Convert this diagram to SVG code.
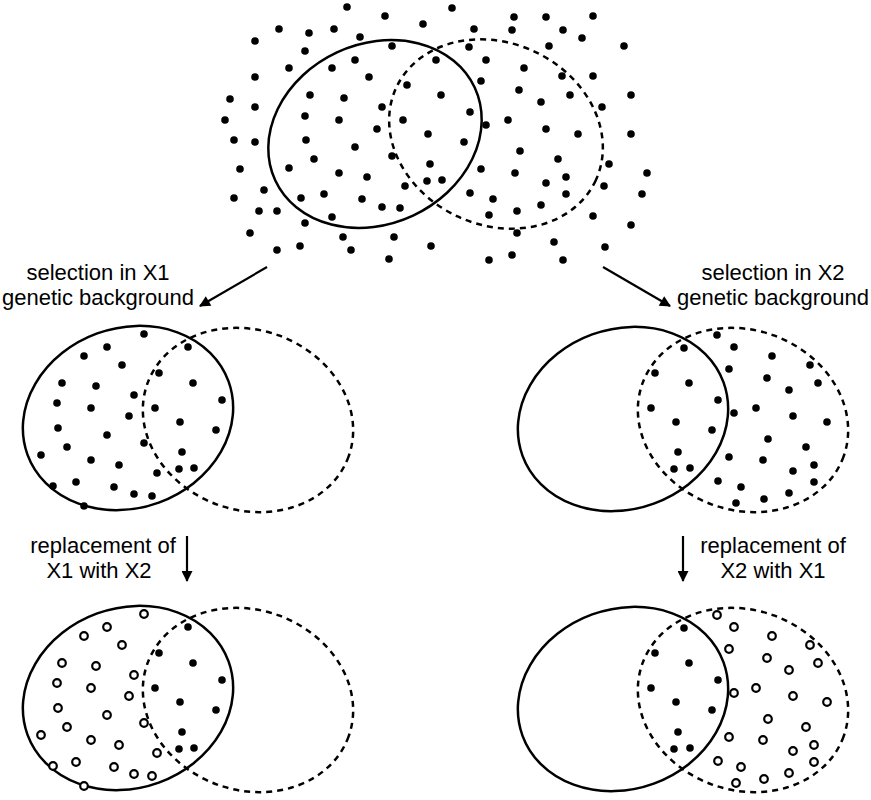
<svg xmlns="http://www.w3.org/2000/svg" width="871" height="800" viewBox="0 0 871 800">
<style>
.s{fill:none;stroke:#000;stroke-width:2.5}
.d{fill:none;stroke:#000;stroke-width:2.5;stroke-dasharray:6 5}
.f{fill:#000}
.o{fill:#fff;stroke:#000;stroke-width:2.2}
.t{font-family:"Liberation Sans",Arial,sans-serif;font-size:22px;fill:#000;text-anchor:middle}
.a{stroke:#000;stroke-width:2.2;fill:none;marker-end:url(#m)}
</style>
<defs>
<marker id="m" viewBox="0 0 10 10" refX="9" refY="5" markerWidth="13" markerHeight="11" orient="auto" markerUnits="userSpaceOnUse"><path d="M0,0 L10,5 L0,10 z" fill="#000"/></marker>
<g id="d0">
<circle cx="144" cy="334" r="3.8"/><circle cx="107" cy="347" r="3.8"/><circle cx="84" cy="356" r="3.8"/><circle cx="122" cy="365" r="3.8"/><circle cx="62" cy="383" r="3.8"/><circle cx="96" cy="386" r="3.8"/><circle cx="134" cy="395" r="3.8"/><circle cx="57" cy="403" r="3.8"/><circle cx="91" cy="408" r="3.8"/><circle cx="129" cy="416" r="3.8"/><circle cx="58" cy="428" r="3.8"/><circle cx="107" cy="435" r="3.8"/><circle cx="144" cy="443" r="3.8"/><circle cx="67" cy="447" r="3.8"/><circle cx="41" cy="455" r="3.8"/><circle cx="91" cy="460" r="3.8"/><circle cx="119" cy="465" r="3.8"/><circle cx="157" cy="473" r="3.8"/><circle cx="53" cy="486" r="3.8"/><circle cx="76" cy="482" r="3.8"/><circle cx="114" cy="487" r="3.8"/><circle cx="134" cy="494" r="3.8"/><circle cx="152" cy="496" r="3.8"/><circle cx="84" cy="506" r="3.8"/>
</g>
<g id="d1">
<circle cx="188" cy="347" r="3.8"/><circle cx="159" cy="373" r="3.8"/><circle cx="193" cy="383" r="3.8"/><circle cx="222" cy="400" r="3.8"/><circle cx="155" cy="408" r="3.8"/><circle cx="180" cy="422" r="3.8"/><circle cx="216" cy="430" r="3.8"/><circle cx="182" cy="452" r="3.8"/><circle cx="179" cy="469" r="3.8"/><circle cx="194" cy="468" r="3.8"/>
</g>
<g id="e1">
<circle cx="684" cy="348" r="3.8"/><circle cx="655" cy="373" r="3.8"/><circle cx="689" cy="383" r="3.8"/><circle cx="718" cy="400" r="3.8"/><circle cx="651" cy="408" r="3.8"/><circle cx="676" cy="422" r="3.8"/><circle cx="712" cy="430" r="3.8"/><circle cx="678" cy="452" r="3.8"/><circle cx="674" cy="469" r="3.8"/><circle cx="690" cy="468" r="3.8"/>
</g>
<g id="e0">
<circle cx="717" cy="335" r="3.8"/><circle cx="734" cy="347" r="3.8"/><circle cx="772" cy="356" r="3.8"/><circle cx="810" cy="365" r="3.8"/><circle cx="729" cy="369" r="3.8"/><circle cx="767" cy="378" r="3.8"/><circle cx="818" cy="383" r="3.8"/><circle cx="789" cy="390" r="3.8"/><circle cx="756" cy="408" r="3.8"/><circle cx="734" cy="413" r="3.8"/><circle cx="793" cy="416" r="3.8"/><circle cx="827" cy="422" r="3.8"/><circle cx="768" cy="439" r="3.8"/><circle cx="729" cy="457" r="3.8"/><circle cx="806" cy="447" r="3.8"/><circle cx="763" cy="460" r="3.8"/><circle cx="814" cy="465" r="3.8"/><circle cx="793" cy="471" r="3.8"/><circle cx="718" cy="481" r="3.8"/><circle cx="741" cy="487" r="3.8"/><circle cx="814" cy="482" r="3.8"/><circle cx="789" cy="493" r="3.8"/><circle cx="736" cy="503" r="3.8"/><circle cx="764" cy="499" r="3.8"/>
</g>
</defs>
<rect width="871" height="800" fill="#fff"/>
<g id="top">
<ellipse class="s" cx="375" cy="134" rx="110" ry="90" transform="rotate(-25 375 134)"/>
<ellipse class="d" cx="496" cy="134" rx="110" ry="91" transform="rotate(25 496 134)"/>
<g class="f">
<circle cx="347" cy="7" r="3.8"/><circle cx="385" cy="16" r="3.8"/><circle cx="452" cy="8" r="3.8"/><circle cx="514" cy="17" r="3.8"/><circle cx="546" cy="17" r="3.8"/><circle cx="593" cy="16" r="3.8"/><circle cx="279" cy="29" r="3.8"/><circle cx="309" cy="33" r="3.8"/><circle cx="334" cy="29" r="3.8"/><circle cx="360" cy="37" r="3.8"/><circle cx="423" cy="24" r="3.8"/><circle cx="474" cy="29" r="3.8"/><circle cx="512" cy="30" r="3.8"/><circle cx="563" cy="30" r="3.8"/><circle cx="582" cy="38" r="3.8"/><circle cx="255" cy="41" r="3.8"/><circle cx="305" cy="51" r="3.8"/><circle cx="392" cy="46" r="3.8"/><circle cx="469" cy="47" r="3.8"/><circle cx="549" cy="46" r="3.8"/><circle cx="624" cy="46" r="3.8"/><circle cx="436" cy="60" r="3.8"/><circle cx="486" cy="60" r="3.8"/><circle cx="355" cy="60" r="3.8"/><circle cx="289" cy="68" r="3.8"/><circle cx="332" cy="68" r="3.8"/><circle cx="524" cy="68" r="3.8"/><circle cx="255" cy="77" r="3.8"/><circle cx="369" cy="77" r="3.8"/><circle cx="481" cy="81" r="3.8"/><circle cx="562" cy="76" r="3.8"/><circle cx="593" cy="76" r="3.8"/><circle cx="407" cy="85" r="3.8"/><circle cx="519" cy="90" r="3.8"/><circle cx="230" cy="99" r="3.8"/><circle cx="310" cy="95" r="3.8"/><circle cx="344" cy="98" r="3.8"/><circle cx="441" cy="95" r="3.8"/><circle cx="570" cy="95" r="3.8"/><circle cx="631" cy="95" r="3.8"/><circle cx="541" cy="102" r="3.8"/><circle cx="255" cy="107" r="3.8"/><circle cx="382" cy="107" r="3.8"/><circle cx="470" cy="112" r="3.8"/><circle cx="602" cy="107" r="3.8"/><circle cx="225" cy="120" r="3.8"/><circle cx="305" cy="116" r="3.8"/><circle cx="339" cy="120" r="3.8"/><circle cx="403" cy="120" r="3.8"/><circle cx="486" cy="125" r="3.8"/><circle cx="508" cy="120" r="3.8"/><circle cx="377" cy="129" r="3.8"/><circle cx="428" cy="134" r="3.8"/><circle cx="546" cy="129" r="3.8"/><circle cx="578" cy="134" r="3.8"/><circle cx="631" cy="134" r="3.8"/><circle cx="234" cy="140" r="3.8"/><circle cx="255" cy="142" r="3.8"/><circle cx="306" cy="140" r="3.8"/><circle cx="355" cy="147" r="3.8"/><circle cx="464" cy="142" r="3.8"/><circle cx="392" cy="156" r="3.8"/><circle cx="520" cy="151" r="3.8"/><circle cx="314" cy="159" r="3.8"/><circle cx="430" cy="164" r="3.8"/><circle cx="558" cy="159" r="3.8"/><circle cx="609" cy="164" r="3.8"/><circle cx="240" cy="169" r="3.8"/><circle cx="289" cy="168" r="3.8"/><circle cx="339" cy="173" r="3.8"/><circle cx="367" cy="177" r="3.8"/><circle cx="481" cy="169" r="3.8"/><circle cx="515" cy="173" r="3.8"/><circle cx="647" cy="173" r="3.8"/><circle cx="405" cy="186" r="3.8"/><circle cx="427" cy="181" r="3.8"/><circle cx="442" cy="180" r="3.8"/><circle cx="546" cy="183" r="3.8"/><circle cx="566" cy="177" r="3.8"/><circle cx="604" cy="186" r="3.8"/><circle cx="264" cy="190" r="3.8"/><circle cx="234" cy="198" r="3.8"/><circle cx="301" cy="198" r="3.8"/><circle cx="324" cy="194" r="3.8"/><circle cx="362" cy="199" r="3.8"/><circle cx="470" cy="193" r="3.8"/><circle cx="493" cy="199" r="3.8"/><circle cx="566" cy="194" r="3.8"/><circle cx="642" cy="194" r="3.8"/><circle cx="259" cy="211" r="3.8"/><circle cx="277" cy="211" r="3.8"/><circle cx="382" cy="207" r="3.8"/><circle cx="400" cy="208" r="3.8"/><circle cx="489" cy="215" r="3.8"/><circle cx="517" cy="211" r="3.8"/><circle cx="541" cy="205" r="3.8"/><circle cx="332" cy="217" r="3.8"/><circle cx="305" cy="223" r="3.8"/><circle cx="593" cy="216" r="3.8"/><circle cx="631" cy="225" r="3.8"/><circle cx="250" cy="233" r="3.8"/><circle cx="343" cy="237" r="3.8"/><circle cx="394" cy="237" r="3.8"/><circle cx="517" cy="233" r="3.8"/><circle cx="554" cy="242" r="3.8"/><circle cx="277" cy="250" r="3.8"/><circle cx="300" cy="246" r="3.8"/><circle cx="351" cy="250" r="3.8"/><circle cx="431" cy="246" r="3.8"/><circle cx="605" cy="247" r="3.8"/><circle cx="389" cy="259" r="3.8"/><circle cx="489" cy="260" r="3.8"/><circle cx="512" cy="255" r="3.8"/><circle cx="563" cy="260" r="3.8"/>
</g>
</g>
<g id="midLeft">
<ellipse class="s" cx="128" cy="418" rx="107" ry="90" transform="rotate(-20 128 418)"/>
<ellipse class="d" cx="248" cy="420" rx="107" ry="90" transform="rotate(20 248 420)"/>
<use href="#d0" class="f"/><use href="#d1" class="f"/>
</g>
<g id="midRight">
<ellipse class="s" cx="623" cy="419" rx="107" ry="90" transform="rotate(-20 623 419)"/>
<ellipse class="d" cx="743" cy="420" rx="107" ry="90" transform="rotate(20 743 420)"/>
<use href="#e0" class="f"/><use href="#e1" class="f"/>
</g>
<g id="botLeft">
<ellipse class="s" cx="128" cy="698" rx="107" ry="90" transform="rotate(-20 128 698)"/>
<ellipse class="d" cx="248" cy="700" rx="107" ry="90" transform="rotate(20 248 700)"/>
<use href="#d0" class="o" transform="translate(0 280)"/><use href="#d1" class="f" transform="translate(0 280)"/>
</g>
<g id="botRight">
<ellipse class="s" cx="623" cy="699" rx="107" ry="90" transform="rotate(-20 623 699)"/>
<ellipse class="d" cx="743" cy="700" rx="107" ry="90" transform="rotate(20 743 700)"/>
<use href="#e0" class="o" transform="translate(0 280)"/><use href="#e1" class="f" transform="translate(0 280)"/>
</g>
<g id="labels">
<text class="t" x="98" y="280">selection in X1</text>
<text class="t" x="98" y="305">genetic background</text>
<text class="t" x="773" y="280">selection in X2</text>
<text class="t" x="773" y="305">genetic background</text>
<text class="t" x="103" y="553">replacement of</text>
<text class="t" x="99" y="578">X1 with X2</text>
<text class="t" x="773" y="553">replacement of</text>
<text class="t" x="773" y="578">X2 with X1</text>
</g>
<g id="connectors">
<line class="a" x1="267" y1="267" x2="200" y2="306"/>
<line class="a" x1="603" y1="267" x2="670" y2="306"/>
<line class="a" x1="187" y1="536" x2="187" y2="581"/>
<line class="a" x1="683" y1="536" x2="683" y2="581"/>
</g>
</svg>
